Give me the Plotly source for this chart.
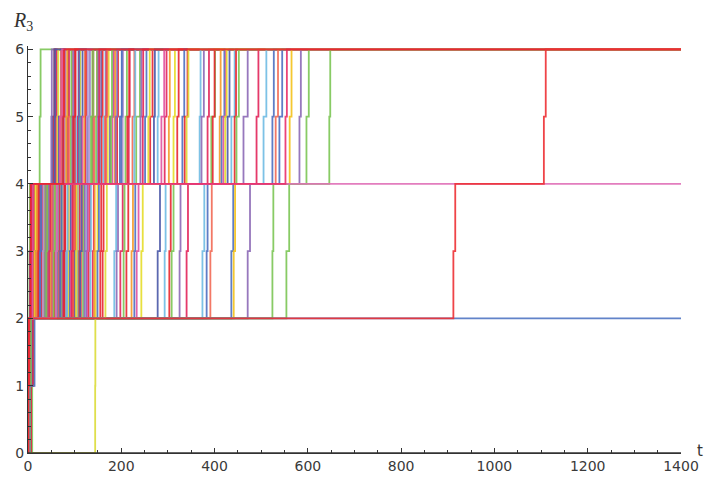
import plotly.graph_objects as go

T_END = 1400

# ---- data: each trajectory steps 0 -> 1 -> 2 -> 3 -> 4 -> 5 -> 6 ----
# time entering level 1, time entering level 2
up1 = [0.5, 1.0, 2.0, 0.8, 3.0, 1.5, 4.0, 0.6, 2.5, 5.0, 1.2, 3.5, 0.9, 2.2, 4.5,
       1.8, 0.4, 3.2, 6.0, 2.8, 1.1, 4.2, 0.7, 3.8, 2.4, 5.5, 1.6, 0.3, 2.9, 4.8,
       1.3, 3.6, 9.0, 2.1, 0.8, 4.4, 1.9, 3.1, 5.2, 0.6, 2.6, 1.4, 3.9, 0.9, 4.6,
       2.3, 1.7, 5.8, 0.5, 3.3, 2.0, 4.1, 1.0, 2.7, 6.5,
       1.0, 2.4, 0.6, 3.3, 1.7, 4.9, 0.8, 2.1, 3.6, 1.3, 5.4, 0.7, 2.9, 1.5, 4.2,
       0.9, 3.0, 2.2, 1.1, 6.2,
       1.5, 3.0, 0.7, 2.2, 4.0, 1.1, 5.0, 2.6, 0.9, 3.4, 1.8, 4.7, 0.6, 2.4, 3.7,
       1.3, 5.3, 2.0, 0.8, 3.1, 4.3, 1.6, 2.9, 0.5, 3.6,
       144.0, 1.2, 0.8, 0.6, 0.4, 0.3]
up2 = [1.5, 2.5, 4.0, 3.0, 6.0, 4.5, 7.0, 2.0, 5.5, 8.0,
       3.0, 6.5, 2.4, 4.0, 7.5, 3.6, 2.2, 5.0, 9.0, 4.2,
       2.6, 6.8, 3.1, 5.6, 4.9, 8.5, 3.4, 1.8, 5.2, 7.2,
       2.9, 5.9, 10.0, 4.4, 2.7, 6.3, 3.8, 5.5, 8.1, 2.3,
       4.7, 3.2, 6.6, 2.5, 7.9, 4.1, 3.5, 9.2, 1.9, 5.8,
       3.9, 6.9, 2.8, 4.6, 11.0,
       3.0, 5.0, 2.2, 6.0, 4.1, 7.8, 2.9, 4.8, 6.3, 3.4, 9.5, 2.6, 5.6, 4.0, 7.3,
       3.3, 6.1, 5.4, 3.7, 12.0,
       3.4, 5.6, 2.4, 4.3, 6.9, 3.0, 8.2, 4.9, 2.6, 5.7, 3.8, 7.6, 2.1, 4.5, 6.1,
       3.2, 8.8, 4.0, 2.5, 5.3, 7.0, 3.6, 5.1, 1.7, 6.2,
       144.4, 14.0, 2.5, 2.0, 1.6, 2.8]
# time leaving level 2 (jump to 3), None = stays at 2
leave2 = [3, 4, 7, 8, 11, 12, 14, 17, 19, 20, 23, 24, 27, 29, 30, 33, 36, 37, 40, 41,
          44, 47, 48, 51, 53, 56, 57, 60, 63, 64, 67, 70, 71, 74, 77, 79, 82, 85, 86, 90,
          92, 96, 99, 101, 105, 108, 110, 114, 118, 121, 125, 130, 134, 139, 145,
          5, 9, 16, 22, 26, 32, 39, 45, 50, 55, 62, 69, 76, 84, 94, 103, 112, 127, 142, 160,
          149, 155, 185, 190, 198, 205, 211, 222, 228, 233, 243, 278, 293, 303, 308,
          325, 340, 374, 383, 391, 436, 441, 471, 524, 554,
          166, None, 60, 6, 5, 912]
# time spent at level 3
stay3 = [1, 2, 1, 3, 2, 1, 2, 4, 1, 2, 3, 1, 2, 2, 1, 3, 1, 2, 4, 1, 2, 1, 3, 2, 1,
         2, 5, 1, 2, 3, 1, 2, 1, 4, 2, 1, 3, 2, 1, 2, 3, 1, 2, 4, 1, 2, 1, 3, 2, 1,
         2, 3, 1, 2, 4,
         2, 1, 3, 1, 2, 1, 2, 3, 1, 2, 1, 3, 2, 1, 2, 1, 3, 2, 1, 2,
         3, 2, 4, 3, 5, 2, 4, 3, 2, 4, 3, 5, 2, 3, 4, 2, 3, 4, 2, 3, 4, 3, 5, 2, 6,
         3, 0, 2, 1, 1, 4]
# time leaving level 4 (jump to 5), None = stays at 4
leave4 = [25, 50, 53, 55, 58, 60, 63, 66, 68, 71, 74, 76, 79, 83, 86, 88, 92, 95, 98, 101,
          104, 107, 111, 114, 117, 121, 124, 128, 131, 135, 139, 142, 146, 150, 154, 158,
          162, 167, 171, 176, 181, 186, 191, 197, 203, 209, 216, 224, 232, 241, 251, 262,
          278, 293, 312,
          57, 70, 82, 97, 109, 126, 137, 152, 165, 178, 188, 200, 213, 228, 246,
          258, 270, 286, 302, 320,
          331, 336, 368, 372, 385, 393, 396, 411, 415, 419, 423, 428, 436, 443, 447,
          462, 490, 505, 524, 531, 539, 561, 582, 597, 646,
          340, None, None, 552, 76, 1106]
# time spent at level 5
stay5 = [2, 1, 3, 2, 4, 1, 2, 5, 3, 1, 2, 4, 1, 3, 2, 6, 1, 2, 3, 1, 4, 2, 1, 3, 5,
         2, 1, 4, 2, 3, 1, 6, 2, 1, 3, 2, 4, 1, 2, 7, 3, 1, 2, 5, 1, 3, 2, 4, 8, 2,
         3, 5, 2, 4, 3,
         1, 3, 2, 4, 1, 2, 3, 1, 5, 2, 3, 1, 4, 2, 1, 3, 2, 6, 2, 3,
         4, 6, 2, 5, 3, 8, 4, 2, 6, 5, 3, 4, 7, 3, 5, 9, 4, 6, 3, 5, 6, 4, 3, 5, 2,
         4, 0, 0, 3, 2, 4]

# ---- styling ----
G, U, B, R, L, C = "#7cc655", "#8c6ab6", "#4e6fc0", "#e8262f", "#70bce4", "#e3245a"
Y, N, P, O, V, S = "#e6dd2a", "#4a58a8", "#e052a0", "#f59a2a", "#b596d2", "#f26a55"
GOLD = "#f4c21a"
cycle = [G, U, B, R, L, C, Y, N, P, O, R, B, V, G, C, S]
late_colors = [B, R, L, U, C, G, R, O, B, P, Y, N, L, R, G, U, C,
               L, B, S, B, GOLD, U, G, G]
special_colors = ["#dcdc38", "#5076c4", "#e070b8", "#ea2f6a", "#e8262f", "#ee3035"]
colors = [cycle[i % len(cycle)] for i in range(75)] + late_colors + special_colors

fig = go.Figure()
for i in range(len(up1)):
    xs = [0, up1[i], up2[i]]
    ys = [0, 1, 2]
    if leave2[i] is not None:
        xs += [leave2[i], leave2[i] + stay3[i]]
        ys += [3, 4]
        if leave4[i] is not None:
            xs += [leave4[i], leave4[i] + stay5[i]]
            ys += [5, 6]
    xs.append(T_END)
    ys.append(ys[-1])
    fig.add_trace(go.Scatter(x=xs, y=ys, mode="lines", line_shape="hv",
                             line=dict(color=colors[i], width=1.8),
                             opacity=0.9, showlegend=False, hoverinfo="skip"))

axis_col = "#333333"
tick_font = dict(family="DejaVu Sans", size=14, color="#3a3a3a")
fig.update_layout(
    width=707, height=481,
    margin=dict(l=28, r=26, t=46, b=28),
    paper_bgcolor="white", plot_bgcolor="white",
    xaxis=dict(range=[0, 1400], tickvals=[0, 200, 400, 600, 800, 1000, 1200, 1400],
               ticks="inside", ticklen=5, tickcolor=axis_col, tickwidth=1,
               showline=True, linecolor=axis_col, linewidth=1.3, automargin=False,
               showgrid=False, zeroline=False, tickfont=tick_font,
               minor=dict(dtick=50, ticks="inside", ticklen=3, tickcolor=axis_col,
                          showgrid=False)),
    yaxis=dict(range=[0, 6.05], tickvals=[0, 1, 2, 3, 4, 5, 6],
               ticks="inside", ticklen=5, tickcolor=axis_col, tickwidth=1,
               showline=True, linecolor=axis_col, linewidth=1.3, automargin=False,
               showgrid=False, zeroline=False, tickfont=tick_font,
               minor=dict(dtick=0.2, ticks="inside", ticklen=3, tickcolor=axis_col,
                          showgrid=False)),
    shapes=[dict(type="line", xref="paper", yref="paper", x0=0, x1=1, y0=0, y1=0,
                 layer="above", line=dict(color=axis_col, width=1.6))],
    annotations=[
        dict(text="<i>R</i><sub>3</sub>", xref="paper", yref="paper",
             x=-0.026, y=1.095, xanchor="left", yanchor="top", showarrow=False,
             font=dict(family="Liberation Serif", size=20, color="#333333")),
        dict(text="t", xref="paper", yref="paper", x=1.022, y=0.005,
             xanchor="left", yanchor="middle", showarrow=False,
             font=dict(family="DejaVu Sans", size=15, color="#333333")),
    ],
)

fig.write_html("out.html")
